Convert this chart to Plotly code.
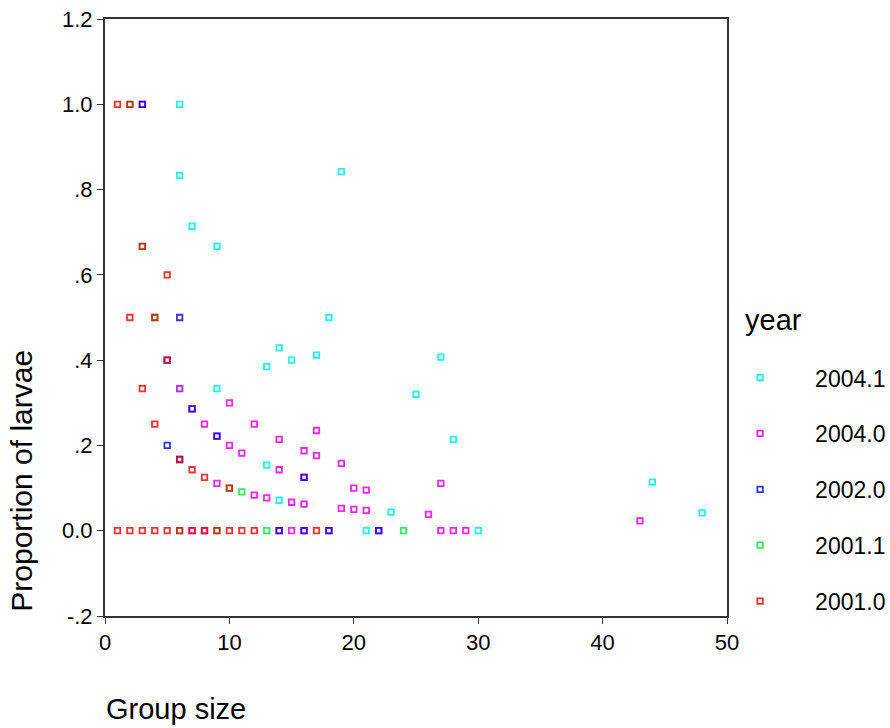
import plotly.graph_objects as go

# ---- data (group size, proportion of larvae) per year ----
x_2004_1 = [6, 6, 7, 9, 6, 9, 13, 14, 15, 17, 18, 19, 13, 14, 23, 25, 27, 28, 44, 48, 21, 30]
y_2004_1 = [1.0, 0.833, 0.714, 0.667, 0.333, 0.333, 0.385, 0.429, 0.4, 0.412, 0.5, 0.842,
            0.154, 0.0714, 0.0435, 0.32, 0.407, 0.214, 0.114, 0.0417, 0.0, 0.0]

x_2004_0 = [3, 6, 7, 8, 9, 9, 10, 10, 11, 12, 12, 13, 14, 14, 15, 16, 16, 16, 17, 17,
            19, 19, 20, 20, 21, 21, 26, 27, 43, 7, 8, 14, 15, 16, 18, 22, 27, 28, 29]
y_2004_0 = [1.0, 0.333, 0.2857, 0.25, 0.222, 0.111, 0.3, 0.2, 0.182, 0.25, 0.0833, 0.0769,
            0.214, 0.143, 0.0667, 0.1875, 0.125, 0.0625, 0.235, 0.176,
            0.158, 0.0526, 0.1, 0.05, 0.0952, 0.0476, 0.0385, 0.111, 0.0233,
            0.0, 0.0, 0.0, 0.0, 0.0, 0.0, 0.0, 0.0, 0.0, 0.0]

x_2002_0 = [3, 5, 5, 6, 6, 7, 9, 16, 14, 16, 18, 22]
y_2002_0 = [1.0, 0.4, 0.2, 0.5, 0.167, 0.2857, 0.222, 0.125, 0.0, 0.0, 0.0, 0.0]

x_2001_1 = [2, 3, 4, 10, 11, 6, 9, 13, 24]
y_2001_1 = [1.0, 0.667, 0.5, 0.1, 0.0909, 0.0, 0.0, 0.0, 0.0]

x_2001_0 = [1, 2, 2, 3, 3, 4, 4, 5, 5, 6, 7, 8, 10,
            1, 2, 3, 4, 5, 6, 7, 8, 9, 10, 11, 12, 17]
y_2001_0 = [1.0, 1.0, 0.5, 0.667, 0.333, 0.5, 0.25, 0.6, 0.4, 0.167, 0.143, 0.125, 0.1,
            0, 0, 0, 0, 0, 0, 0, 0, 0, 0, 0, 0, 0]

y_tickvals = [-0.2, 0.0, 0.2, 0.4, 0.6, 0.8, 1.0, 1.2]
y_ticktext = ["-.2", "0.0", ".2", ".4", ".6", ".8", "1.0", "1.2"]
x_tickvals = [0, 10, 20, 30, 40, 50]

series = [
    ("2004.1", x_2004_1, y_2004_1, "#00F0F0", 0.85),
    ("2004.0", x_2004_0, y_2004_0, "#F000F0", 0.85),
    ("2002.0", x_2002_0, y_2002_0, "#0000F0", 0.8),
    ("2001.1", x_2001_1, y_2001_1, "#00E63C", 0.8),
    ("2001.0", x_2001_0, y_2001_0, "#F00000", 0.8),
]

FONT = "Liberation Sans, Arial, sans-serif"

fig = go.Figure()
for name, xs, ys, col, op in series:
    fig.add_trace(go.Scatter(
        x=xs, y=ys, mode="markers", name=name,
        legendgroup=name,
        marker=dict(symbol="square-open", size=5.5, color=col,
                    line=dict(width=1.8, color=col), opacity=op),
    ))

fig.update_layout(
    width=890, height=728,
    paper_bgcolor="white", plot_bgcolor="white",
    margin=dict(l=105, r=163, t=19, b=112, autoexpand=False),
    font=dict(family=FONT, size=22, color="black"),
    showlegend=True,
    legend=dict(
        x=0.9648, xanchor="left", xref="paper",
        y=0.4354, yanchor="top",
        font=dict(size=23),
        itemwidth=100,
        tracegroupgap=23,
        bgcolor="rgba(0,0,0,0)",
        itemsizing="trace",
    ),
    xaxis=dict(
        range=[0, 50], tickvals=x_tickvals, showgrid=False, zeroline=False,
        showline=True, linecolor="#333333", linewidth=1.5, mirror=True,
        ticks="outside", ticklen=6, tickcolor="#333333",
        tickfont=dict(size=22), ticklabeloverflow="allow",
    ),
    yaxis=dict(
        range=[-0.2, 1.2], tickvals=y_tickvals, ticktext=y_ticktext,
        showgrid=False, zeroline=False,
        showline=True, linecolor="#333333", linewidth=2, mirror=True,
        ticks="outside", ticklen=6, tickcolor="#333333",
        tickfont=dict(size=22), ticklabeloverflow="allow",
    ),
    annotations=[
        dict(text="Group size", xref="paper", yref="paper", x=0.1146, y=-0.155,
             xanchor="center", yanchor="middle", showarrow=False,
             font=dict(size=29)),
        dict(text="Proportion of larvae", xref="paper", yref="paper",
             x=-0.1343, y=0.2274, textangle=-90,
             xanchor="center", yanchor="middle", showarrow=False,
             font=dict(size=30)),
        dict(text="year", xref="paper", yref="paper", x=1.0257, y=0.4956,
             xanchor="left", yanchor="middle", showarrow=False,
             font=dict(size=29)),
    ],
)

fig.write_html(
    "out.html",
    config={"displayModeBar": False},
    post_script="document.body.style.margin='0';document.body.style.overflow='hidden';",
)
